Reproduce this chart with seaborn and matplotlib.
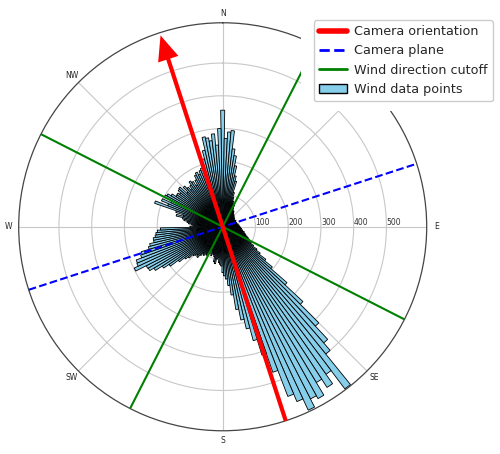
"""
Wind rose with camera orientation, camera plane and wind-direction cutoffs.
Polar histogram of wind directions (2 degree bins), north up, clockwise.
"""

import matplotlib
matplotlib.use("Agg")
import matplotlib.pyplot as plt
from matplotlib.lines import Line2D
from matplotlib.patches import Patch, Rectangle
import numpy as np
import pandas as pd
import seaborn as sns

OUT_PATH = "out.png"

# bin centres (degrees from north, clockwise) and counts per 2-degree bin
BIN_CENTRES_DEG = list(range(0, 360, 2))
COUNTS = [
    356, 270, 290, 295, 240, 220, 190, 160, 145, 110,   # 0-18
    95, 85, 80, 70, 75, 65, 60, 55, 58, 50,             # 20-38
    52, 48, 50, 45, 47, 42, 45, 40, 44, 38,             # 40-58
    42, 40, 45, 38, 42, 40, 44, 38, 45, 42,             # 60-78
    48, 45, 50, 46, 52, 48, 55, 50, 58, 55,             # 80-98
    62, 60, 68, 65, 72, 75, 80, 85, 90, 95,             # 100-118
    100, 110, 125, 140, 165, 195, 260, 335, 415, 470,   # 120-138
    500, 620, 550, 585, 555, 600, 590, 618, 580, 555,   # 140-158
    470, 410, 360, 320, 290, 256, 210, 180, 160, 150,   # 160-178
    140, 120, 115, 110, 95, 100, 115, 110, 95, 90,      # 180-198
    85, 95, 80, 90, 85, 100, 95, 105, 100, 110,         # 200-218
    121, 115, 120, 125, 140, 150, 170, 200, 220, 245,   # 220-238
    260, 262, 298, 285, 283, 265, 260, 235, 229, 215,   # 240-258
    215, 208, 205, 200, 190, 100, 90, 95, 105, 110,     # 260-278
    120, 125, 146, 125, 150, 220, 180, 203, 175, 200,   # 280-298
    195, 184, 170, 171, 165, 175, 178, 150, 170, 160,   # 300-318
    150, 160, 171, 165, 150, 165, 178, 184, 175, 185,   # 320-338
    190, 200, 215, 240, 280, 275, 265, 285, 250, 300,   # 340-358
]
BIN_WIDTH_DEG = 2

CAMERA_DEG = 342
CUTOFF_HALF_DEG = 45
R_MAX = 623
R_TICKS = [100, 200, 300, 400, 500]
DIRECTION_LABELS = ["N", "NE", "E", "SE", "S", "SW", "W", "NW"]


def main() -> None:
    sns.set_style("white")
    plt.rcParams["font.family"] = ["DejaVu Sans"]

    fig = plt.figure(figsize=(5, 4.54), dpi=100)
    ax = fig.add_axes([0.0374, 0.051, 0.816, 0.899], projection="polar")
    ax.set_theta_zero_location("N")
    ax.set_theta_direction(-1)

    wind = pd.DataFrame({"theta": np.deg2rad(BIN_CENTRES_DEG), "count": COUNTS})
    edges = np.deg2rad(np.arange(-BIN_WIDTH_DEG / 2, 360 + BIN_WIDTH_DEG / 2 + 0.1, BIN_WIDTH_DEG))
    sns.histplot(
        data=wind, x="theta", weights="count", bins=list(edges), ax=ax,
        color="skyblue", edgecolor="black", linewidth=0.6, alpha=1, zorder=2,
    )

    th = np.deg2rad
    # camera orientation arrow through the centre
    ax.plot([th(CAMERA_DEG + 180), 0, th(CAMERA_DEG)], [R_MAX, 0, R_MAX * 0.9],
            color="red", lw=3, zorder=4)
    ax.annotate(
        "", xy=(th(CAMERA_DEG), R_MAX), xytext=(th(CAMERA_DEG), R_MAX * 0.8),
        arrowprops=dict(arrowstyle="-|>,head_length=0.4,head_width=0.17",
                        color="red", lw=0, mutation_scale=45),
        zorder=5, annotation_clip=False,
    )
    # camera plane
    plane = CAMERA_DEG - 90
    ax.plot([th(plane), 0, th(plane + 180)], [R_MAX, 0, R_MAX],
            color="blue", lw=1.5, ls="--", zorder=3)
    # cutoffs
    for c in (CAMERA_DEG - CUTOFF_HALF_DEG, CAMERA_DEG + CUTOFF_HALF_DEG):
        ax.plot([th(c), 0, th(c + 180)], [R_MAX, 0, R_MAX],
                color="green", lw=1.5, zorder=3)

    ax.set_ylim(0, R_MAX)
    ax.set_yticks(R_TICKS)
    ax.set_yticklabels([str(t) for t in R_TICKS], fontsize=5.5, color="#333333")
    ax.set_rlabel_position(90)
    ax.set_xticks(np.deg2rad(np.arange(0, 360, 45)))
    ax.set_xticklabels(DIRECTION_LABELS, fontsize=5.5)
    ax.tick_params(axis="x", pad=0, size=0)
    ax.grid(True, color="#c8c8c8", lw=0.8)
    ax.spines["polar"].set_color("#444444")
    ax.spines["polar"].set_linewidth(0.9)
    ax.set_xlabel("")
    ax.set_ylabel("")

    # white area round the legend
    fig.add_artist(Rectangle((0.602, 0.755), 0.4, 0.25, transform=fig.transFigure,
                             facecolor="white", edgecolor="none", zorder=10))

    handles = [
        Line2D([], [], color="red", lw=4),
        Line2D([], [], color="blue", lw=2, ls="--"),
        Line2D([], [], color="green", lw=2),
        Patch(facecolor="skyblue", edgecolor="black"),
    ]
    labels = ["Camera orientation", "Camera plane", "Wind direction cutoff", "Wind data points"]
    leg = fig.legend(handles, labels, loc="upper right", bbox_to_anchor=(0.986, 0.956),
                     borderaxespad=0, fontsize=9.2, handlelength=2.2, handletextpad=0.6,
                     labelspacing=0.5, framealpha=1)
    leg.set_zorder(11)

    fig.savefig(OUT_PATH, dpi=100)
    plt.close(fig)


if __name__ == "__main__":
    main()
